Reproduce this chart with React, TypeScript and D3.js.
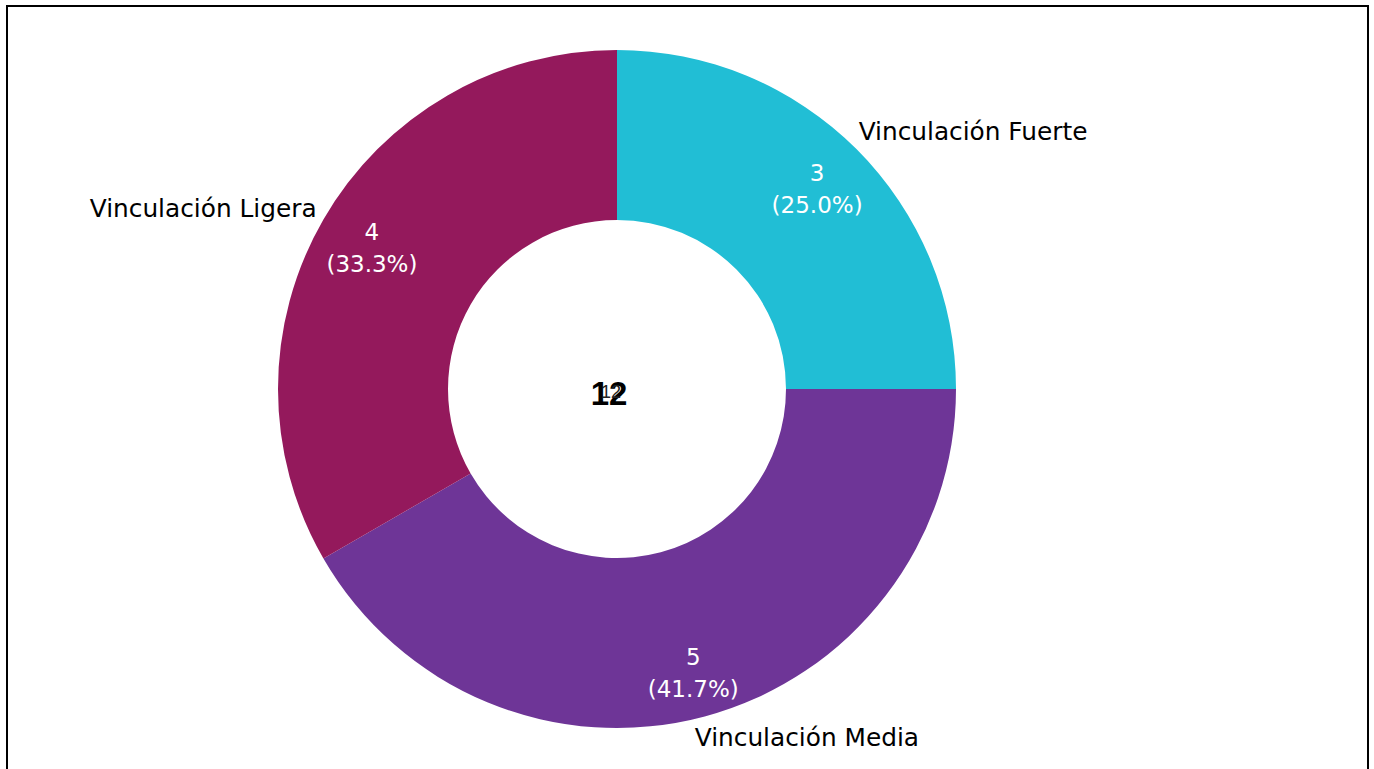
import React from "react";
import * as d3 from "d3";

const categories = ["Vinculación Fuerte", "Vinculación Media", "Vinculación Ligera"];
const values = [3, 5, 4];
const colors = ["#21BED5", "#6E3597", "#94195C"];
const total = values.reduce((a, b) => a + b, 0);

const W = 1374;
const H = 769;
const cx = 617;
const cy = 389;
const outerR = 339;
const innerR = 169;

// per-slice label nudges (layout only)
const valueNudge = [
  [0, 0],
  [3, 11],
  [0, 0],
];
const catNudge = [
  [0, 4],
  [2, -9],
  [0, 4],
];

export default function App() {
  const pie = d3
    .pie<number>()
    .sort(null)
    .value((d) => d)
    .startAngle(0)
    .endAngle(2 * Math.PI);
  const arcs = pie(values);
  const arc = d3.arc<d3.PieArcDatum<number>>().innerRadius(innerR).outerRadius(outerR);
  const labelArc = d3.arc<d3.PieArcDatum<number>>().innerRadius(283).outerRadius(283);
  const outerArc = d3.arc<d3.PieArcDatum<number>>().innerRadius(370).outerRadius(370);
  const fmt = d3.format(".1f");
  const font = "'DejaVu Sans', sans-serif";

  return (
    <svg
      width={W}
      height={H}
      style={{ position: "absolute", left: 0, top: 0, display: "block", background: "#fff" }}
    >
      <rect x={0} y={0} width={W} height={H} fill="#fff" />
      <rect x={7} y={6} width={1361} height={H + 20} fill="none" stroke="#000" strokeWidth={2} />
      <g transform={`translate(${cx},${cy})`}>
        {arcs.map((a, i) => (
          <path key={i} d={arc(a) || ""} fill={colors[i]} />
        ))}
        {arcs.map((a, i) => {
          const [x0, y0] = labelArc.centroid(a);
          const x = x0 + valueNudge[i][0];
          const y = y0 + valueNudge[i][1];
          return (
            <text
              key={"v" + i}
              x={x}
              y={y}
              fill="#fff"
              fontFamily={font}
              fontSize={23}
              textAnchor="middle"
            >
              <tspan x={x} dy={-8}>{values[i]}</tspan>
              <tspan x={x} dy={32}>({fmt((values[i] / total) * 100)}%)</tspan>
            </text>
          );
        })}
        {arcs.map((a, i) => {
          const [x, y] = outerArc.centroid(a);
          const mid = (a.startAngle + a.endAngle) / 2;
          const right = mid < Math.PI;
          const dx = right ? -20 : 20;
          return (
            <text
              key={"c" + i}
              x={x + dx + catNudge[i][0]}
              y={y + catNudge[i][1]}
              dy="0.35em"
              fill="#000"
              fontFamily={font}
              fontSize={24.8}
              textAnchor={right ? "start" : "end"}
            >
              {categories[i]}
            </text>
          );
        })}
        <text
          x={-8}
          y={16}
          fontFamily="'Liberation Sans', Arial, sans-serif"
          fontWeight="bold"
          fontSize={33}
          textAnchor="middle"
          fill="#000"
        >
          {total}
        </text>
        <text
          x={-6}
          y={9}
          fontFamily="'Liberation Sans', Arial, sans-serif"
          fontSize={18}
          textAnchor="middle"
          fill="#222"
        >
          {total}
        </text>
      </g>
    </svg>
  );
}
